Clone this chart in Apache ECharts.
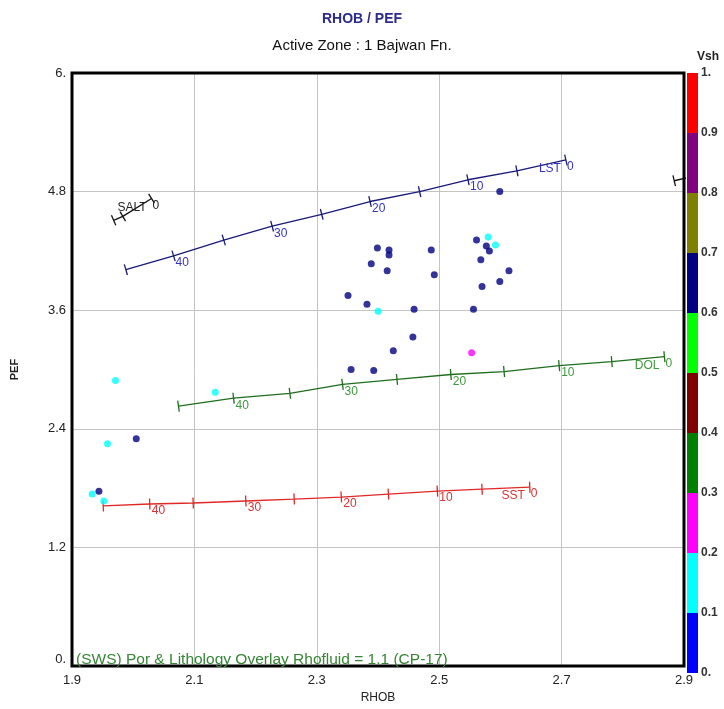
<!DOCTYPE html>
<html>
<head>
<meta charset="utf-8">
<script src="https://cdn.jsdelivr.net/npm/echarts@6/dist/echarts.min.js"></script>
<style>
html, body { margin: 0; padding: 0; background: #ffffff; }
#chart { width: 724px; height: 709px; }
</style>
</head>
<body>
<div id="chart"></div>
<script>
// RHOB / PEF crossplot: log points coloured by Vsh, with porosity overlay lines
const FONT = "'Liberation Sans', Arial, sans-serif";

// axis tick labels
const xTickLabels = ['1.9', '2.1', '2.3', '2.5', '2.7', '2.9'];
const yTickLabels = ['0.', '1.2', '2.4', '3.6', '4.8', '6.'];
const vshTickLabels = ['0.', '0.1', '0.2', '0.3', '0.4', '0.5', '0.6', '0.7', '0.8', '0.9', '1.'];

// Vsh colour classes
const vshEdges = [0, 0.1, 0.2, 0.3, 0.4, 0.5, 0.6, 0.7, 0.8, 0.9, 1.0];
const vshColors = ['#0000ff', '#00ffff', '#ff00ff', '#008000', '#800000',
                   '#00ff00', '#000080', '#808000', '#800080', '#ff0000'];

// log samples
const pointRhob = [2.599, 2.561, 2.577, 2.582, 2.568, 2.614, 2.599, 2.570, 2.556,
                   2.399, 2.418, 2.418, 2.389, 2.415, 2.487, 2.492, 2.351, 2.382,
                   2.459, 2.457, 2.425, 2.356, 2.393, 2.005, 1.944,
                   2.580, 2.592, 2.400, 1.971, 2.134, 1.958, 1.933, 1.952,
                   2.553];
const pointPef  = [4.80, 4.31, 4.25, 4.20, 4.11, 4.00, 3.89, 3.84, 3.61,
                   4.23, 4.21, 4.16, 4.07, 4.00, 4.21, 3.96, 3.75, 3.66,
                   3.61, 3.33, 3.19, 3.00, 2.99, 2.30, 1.77,
                   4.34, 4.26, 3.59, 2.89, 2.77, 2.25, 1.74, 1.67,
                   3.17];
const pointVsh  = [0.65, 0.65, 0.65, 0.65, 0.65, 0.65, 0.65, 0.65, 0.65,
                   0.65, 0.65, 0.65, 0.65, 0.65, 0.65, 0.65, 0.65, 0.65,
                   0.65, 0.65, 0.65, 0.65, 0.65, 0.65, 0.65,
                   0.15, 0.15, 0.15, 0.15, 0.15, 0.15, 0.15, 0.15,
                   0.25];

// lithology overlay lines: porosity (%) at each tick, with RHOB and PEF
const sstPhi  = [45, 40, 35, 30, 25, 20, 15, 10, 5, 0];
const sstRhob = [1.951, 2.027, 2.098, 2.184, 2.263, 2.340, 2.417, 2.497, 2.570, 2.648];
const sstPef  = [1.62, 1.64, 1.65, 1.67, 1.69, 1.71, 1.74, 1.77, 1.79, 1.81];

const dolPhi  = [45, 40, 35, 30, 25, 20, 15, 10, 5, 0];
const dolRhob = [2.074, 2.164, 2.256, 2.342, 2.431, 2.519, 2.606, 2.696, 2.782, 2.868];
const dolPef  = [2.63, 2.71, 2.76, 2.85, 2.90, 2.95, 2.98, 3.04, 3.08, 3.13];

const lstPhi  = [45, 40, 35, 30, 25, 20, 15, 10, 5, 0];
const lstRhob = [1.988, 2.066, 2.148, 2.227, 2.308, 2.387, 2.468, 2.547, 2.627, 2.707];
const lstPef  = [4.01, 4.15, 4.31, 4.45, 4.57, 4.70, 4.80, 4.92, 5.01, 5.12];

const saltPhi  = [7, 5, 0];
const saltRhob = [1.968, 1.983, 2.030];
const saltPef  = [4.51, 4.55, 4.73];

const anhPhi  = [5, 0];
const anhRhob = [2.884, 2.980];
const anhPef  = [4.91, 5.05];

function overlaySeries(name, phi, rhob, pef, lineColor, textColor) {
  const n = phi.length;
  return [
    {
      type: 'line',
      data: rhob.map((r, i) => [r, pef[i]]),
      symbol: 'none',
      silent: true,
      z: 3,
      lineStyle: { color: lineColor, width: 1.3 },
      animation: false
    },
    {
      type: 'custom',
      clip: true,
      silent: true,
      z: 4,
      data: phi.map((p, i) => [rhob[i], pef[i], p, i]),
      renderItem(params, api) {
        const i = api.value(3);
        const p = api.coord([api.value(0), api.value(1)]);
        const ia = Math.max(i - 1, 0), ib = Math.min(i + 1, n - 1);
        const a = api.coord([rhob[ia], pef[ia]]);
        const b = api.coord([rhob[ib], pef[ib]]);
        let dx = b[0] - a[0], dy = b[1] - a[1];
        const len = Math.hypot(dx, dy) || 1;
        dx /= len; dy /= len;
        const nx = dy, ny = -dx;
        const h = 5.5;
        const children = [{
          type: 'line',
          shape: { x1: p[0] - nx * h, y1: p[1] - ny * h, x2: p[0] + nx * h, y2: p[1] + ny * h },
          style: { stroke: lineColor, lineWidth: 1.3 }
        }];
        const ph = api.value(2);
        const font = '12px ' + FONT;
        if (ph === 0) {
          children.push({
            type: 'text', x: p[0] - 5, y: p[1] + 3,
            style: { text: name, fill: textColor, font, align: 'right', verticalAlign: 'top' }
          });
          children.push({
            type: 'text', x: p[0] + 1, y: p[1] + 1,
            style: { text: '0', fill: textColor, font, align: 'left', verticalAlign: 'top' }
          });
        } else if (ph % 10 === 0) {
          children.push({
            type: 'text', x: p[0] + 2, y: p[1] + 1,
            style: { text: String(ph), fill: textColor, font, align: 'left', verticalAlign: 'top' }
          });
        }
        return { type: 'group', children };
      },
      animation: false
    }
  ];
}

const chart = echarts.init(document.getElementById('chart'), null, { renderer: 'canvas' });

const points = pointRhob.map((r, i) => [r, pointPef[i], pointVsh[i]]);
const colorBins = vshColors.map((c, i) => [vshEdges[i], vshEdges[i + 1], i]);

const option = {
  backgroundColor: '#ffffff',
  animation: false,
  title: [
    {
      text: 'RHOB / PEF', left: 'center', top: 7,
      textStyle: { color: '#2b2b8c', fontSize: 14, fontWeight: 'bold', fontFamily: FONT }
    },
    {
      text: 'Active Zone : 1 Bajwan Fn.', left: 'center', top: 33,
      textStyle: { color: '#111111', fontSize: 15, fontWeight: 'normal', fontFamily: FONT }
    }
  ],
  graphic: [
    {
      type: 'text', left: 697, top: 51, silent: true,
      style: { text: 'Vsh', fill: '#222', font: 'bold 12px ' + FONT }
    },
    {
      type: 'text', left: 76, top: 652, silent: true, z: 10,
      style: { text: '(SWS) Por & Lithology Overlay Rhofluid = 1.1 (CP-17)', fill: '#368636', font: '15.5px ' + FONT }
    }
  ],
  visualMap: {
    show: false,
    type: 'piecewise',
    seriesIndex: 0,
    dimension: 2,
    pieces: vshColors.map((c, i) => ({ gte: vshEdges[i], lt: vshEdges[i + 1], color: c }))
  },
  grid: [
    { left: 72, top: 73, width: 612, height: 600, show: true, borderColor: '#000', borderWidth: 3, backgroundColor: 'transparent', z: 5 },
    { left: 687, top: 73, width: 11, height: 600 }
  ],
  xAxis: [
    {
      type: 'value', gridIndex: 0, min: 1.9, max: 2.9, interval: 0.2,
      name: 'RHOB', nameLocation: 'middle', nameGap: 22,
      nameTextStyle: { color: '#222', fontSize: 12, fontFamily: FONT },
      axisLine: { show: false }, axisTick: { show: false },
      axisLabel: {
        margin: 8, color: '#222', fontSize: 13, fontFamily: FONT,
        formatter: v => xTickLabels[Math.round((v - 1.9) / 0.2)] || ''
      },
      splitLine: { show: true, lineStyle: { color: '#c4c4c4', width: 1 } }
    },
    { type: 'value', gridIndex: 1, min: 0, max: 1, show: false }
  ],
  yAxis: [
    {
      type: 'value', gridIndex: 0, min: 0, max: 6, interval: 1.2,
      name: 'PEF', nameLocation: 'middle', nameGap: 52, nameRotate: 90,
      nameTextStyle: { color: '#222', fontSize: 11, fontWeight: 'bold', fontFamily: FONT },
      axisLine: { show: false }, axisTick: { show: false },
      axisLabel: {
        margin: 6, color: '#222', fontSize: 13, fontFamily: FONT,
        verticalAlignMinLabel: 'bottom',
        formatter: v => yTickLabels[Math.round(v / 1.2)] || ''
      },
      splitLine: { show: true, lineStyle: { color: '#c4c4c4', width: 1 } }
    },
    {
      type: 'value', gridIndex: 1, min: 0, max: 1, interval: 0.1, position: 'right',
      axisLine: { show: false }, axisTick: { show: false }, splitLine: { show: false },
      axisLabel: {
        margin: 3, color: '#333', fontSize: 12, fontWeight: 'bold', fontFamily: FONT,
        formatter: v => vshTickLabels[Math.round(v * 10)] || ''
      }
    }
  ],
  series: [
    {
      type: 'scatter', xAxisIndex: 0, yAxisIndex: 0, z: 6,
      symbol: 'circle', symbolSize: 7,
      data: points
    },
    ...overlaySeries('SST', sstPhi, sstRhob, sstPef, '#e02828', '#d83030'),
    ...overlaySeries('DOL', dolPhi, dolRhob, dolPef, '#1e6e1e', '#3c9a3c'),
    ...overlaySeries('LST', lstPhi, lstRhob, lstPef, '#1a1a78', '#3434c0'),
    ...overlaySeries('SALT', saltPhi, saltRhob, saltPef, '#111111', '#222222'),
    ...overlaySeries('ANH', anhPhi, anhRhob, anhPef, '#111111', '#222222'),
    {
      type: 'custom', xAxisIndex: 1, yAxisIndex: 1, silent: true,
      data: colorBins,
      renderItem(params, api) {
        const p0 = api.coord([0, api.value(0)]);
        const p1 = api.coord([1, api.value(1)]);
        return {
          type: 'rect',
          shape: { x: p0[0], y: p1[1], width: p1[0] - p0[0], height: p0[1] - p1[1] },
          style: { fill: vshColors[api.value(2)] }
        };
      }
    }
  ]
};

chart.setOption(option);
</script>
</body>
</html>
